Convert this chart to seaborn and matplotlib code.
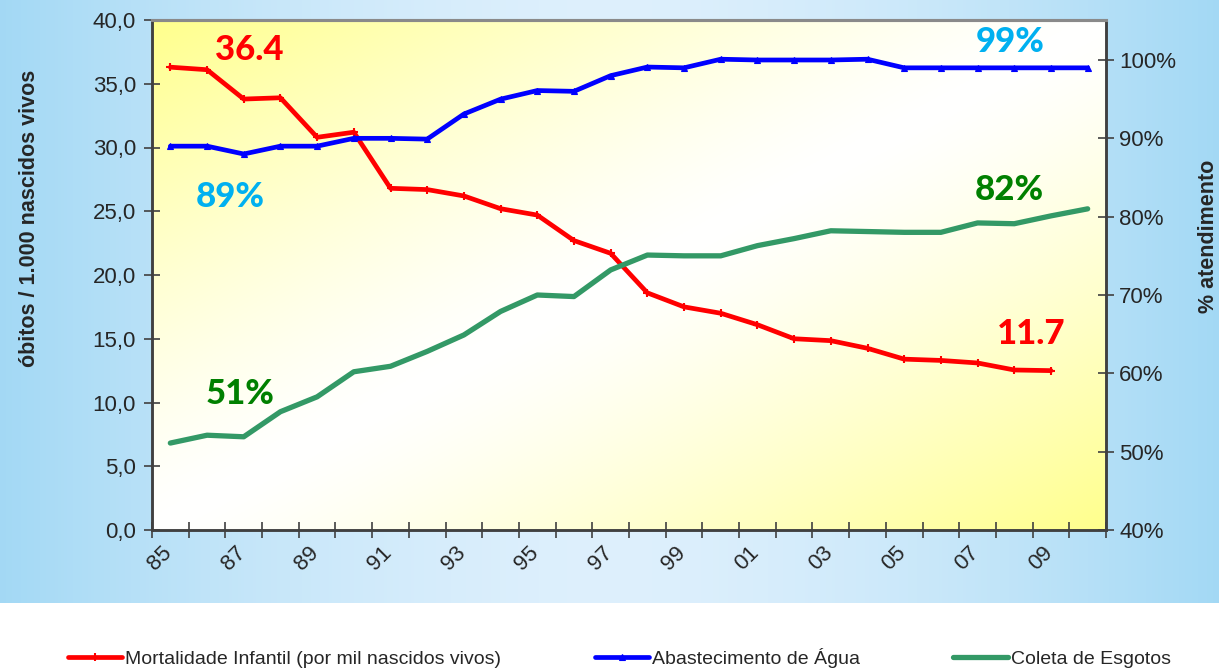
import numpy as np
import pandas as pd
import matplotlib
matplotlib.use('Agg')
import matplotlib.pyplot as plt
import matplotlib.transforms as mtransforms
import seaborn as sns

# ---- data ----
anos = ['85', '86', '87', '88', '89', '90', '91', '92', '93', '94', '95', '96', '97',
        '98', '99', '00', '01', '02', '03', '04', '05', '06', '07', '08', '09', '10']

mortalidade = [36.3, 36.1, 33.8, 33.9, 30.8, 31.2, 26.8, 26.7, 26.2, 25.2, 24.7, 22.7,
               21.7, 18.6, 17.5, 17.0, 16.1, 15.0, 14.85, 14.25, 13.4, 13.3, 13.1,
               12.55, 12.5]

agua = [89.0, 89.0, 88.0, 89.0, 89.0, 90.0, 90.0, 89.9, 93.1, 95.0, 96.1, 96.0, 98.0,
        99.1, 99.0, 100.1, 100.0, 100.0, 100.0, 100.1, 99.0, 99.0, 99.0, 99.0, 99.0,
        99.0]

esgoto = [51.1, 52.1, 51.9, 55.1, 57.0, 60.2, 60.9, 62.8, 64.9, 67.9, 70.0, 69.8, 73.2,
          75.1, 75.0, 75.0, 76.3, 77.2, 78.2, 78.1, 78.0, 78.0, 79.2, 79.1, 80.1, 81.0]

left_ticks = [0, 5, 10, 15, 20, 25, 30, 35, 40]
right_ticks = [40, 50, 60, 70, 80, 90, 100]

serie_nomes = ['Mortalidade Infantil (por mil nascidos vivos)',
               'Abastecimento de Água', 'Coleta de Esgotos']

# annotation texts (label, color, axes-fraction position)
anotacoes = [('36.4', '#FF0000', 0.102, 0.941),
             ('89%', '#00B0F0', 0.082, 0.653),
             ('99%', '#00B0F0', 0.900, 0.957),
             ('82%', '#008000', 0.899, 0.667),
             ('51%', '#008000', 0.092, 0.267),
             ('11.7', '#FF0000', 0.922, 0.384)]

df_mort = pd.DataFrame({'x': np.arange(len(mortalidade)), 'v': mortalidade})
df_agua = pd.DataFrame({'x': np.arange(len(agua)), 'v': agua})
df_esg = pd.DataFrame({'x': np.arange(len(esgoto)), 'v': esgoto})

sns.set_style('white')
plt.rcParams['font.family'] = ['Liberation Sans', 'DejaVu Sans']

fig = plt.figure(figsize=(12.19, 6.69), dpi=100, facecolor='white')

# ---- light blue background band ----
bg = fig.add_axes([0, 66 / 669, 1, 1 - 66 / 669], zorder=-10)
gx = np.linspace(0, 1, 400)
gy = np.linspace(0, 1, 100)
GX, GY = np.meshgrid(gx, gy)
t = np.abs(2 * GX - 1) ** 1.6
edge = np.array([0.64, 0.85, 0.96])
mid = np.array([0.87, 0.94, 0.99])
img = mid[None, None, :] * (1 - t[..., None]) + edge[None, None, :] * t[..., None]
bg.imshow(img, aspect='auto', extent=[0, 1, 0, 1])
bg.axis('off')

# ---- main axes ----
ax = fig.add_axes([152 / 1219, 1 - 530 / 669, (1106 - 152) / 1219, 510 / 669])
ax2 = ax.twinx()

# yellow diagonal gradient of plot area
px = np.linspace(0, 1, 300)
py = np.linspace(1, 0, 200)
PX, PY = np.meshgrid(px, py)
ty = np.abs(PX - PY) ** 1.3
white = np.array([1.0, 1.0, 1.0])
yellow = np.array([1.0, 1.0, 0.55])
pimg = white[None, None, :] * (1 - ty[..., None]) + yellow[None, None, :] * ty[..., None]
ax.imshow(pimg, aspect='auto', extent=[-0.5, len(anos) - 0.5, 0, 40], zorder=0)

sns.lineplot(data=df_mort, x='x', y='v', ax=ax, color='#FF0000', lw=3.4,
             marker='+', markersize=6, markeredgewidth=1.5, markeredgecolor='#FF0000',
             label=serie_nomes[0], legend=False, zorder=3)
sns.lineplot(data=df_agua, x='x', y='v', ax=ax2, color='#0000FF', lw=3.4,
             marker='^', markersize=5, markeredgewidth=0.8, markeredgecolor='#0000FF',
             label=serie_nomes[1], legend=False, zorder=3)
sns.lineplot(data=df_esg, x='x', y='v', ax=ax2, color='#339966', lw=3.8,
             label=serie_nomes[2], legend=False, zorder=3)

ax.set_xlim(-0.5, len(anos) - 0.5)
ax.set_ylim(0, 40)
ax2.set_ylim(40, 40 + 60 * 510 / 470)

# x ticks: boundaries as minor ticks, labels every other year
ax.set_xticks(np.arange(-0.5, len(anos), 1), minor=True)
ax.set_xticks(np.arange(0, len(anos) - 1, 2))
ax.set_xticklabels(anos[0:len(anos) - 1:2], rotation=45, ha='right')
ax.tick_params(axis='x', which='major', length=0, pad=9, labelsize=16)
ax.tick_params(axis='x', which='minor', length=11, direction='inout', width=1.2,
               color='#404040', bottom=True)
shift = mtransforms.ScaledTranslation(6 / 100, 0, fig.dpi_scale_trans)
for lab in ax.get_xticklabels():
    lab.set_transform(lab.get_transform() + shift)

ax.set_yticks(left_ticks)
ax.set_yticklabels([f'{v:.1f}'.replace('.', ',') for v in left_ticks])
ax.tick_params(axis='y', which='major', length=11, direction='inout', width=1.2,
               color='#404040', pad=6, labelsize=16, left=True)

ax2.set_yticks(right_ticks)
ax2.set_yticklabels([f'{v}%' for v in right_ticks])
ax2.tick_params(axis='y', which='major', length=11, direction='inout', width=1.2,
                color='#404040', pad=4, labelsize=16, right=True)

ax.set_xlabel('')
ax.set_ylabel('')
ax2.set_ylabel('')

for a in (ax, ax2):
    a.grid(False)
    for s in ['left', 'bottom', 'right']:
        a.spines[s].set_color('#404040')
        a.spines[s].set_linewidth(1.8)
    a.spines['top'].set_color('#8a8a8a')
    a.spines['top'].set_linewidth(2.2)
ax2.patch.set_visible(False)

# annotations
for txt, col, xa, ya in anotacoes:
    ax2.text(xa, ya, txt, transform=ax.transAxes, color=col, fontsize=25,
             fontweight='black', family=['Lato', 'DejaVu Sans'],
             ha='center', va='center', zorder=5)

# axis titles
fig.text(30 / 1219, 1 - 218 / 669, 'óbitos / 1.000 nascidos vivos', rotation=90,
         ha='center', va='center', fontsize=15.5, fontweight='bold')
fig.text(1208 / 1219, 1 - 236 / 669, '% atendimento', rotation=90,
         ha='center', va='center', fontsize=15.5, fontweight='bold')

# legend at the bottom
h1, l1 = ax.get_legend_handles_labels()
h2, l2 = ax2.get_legend_handles_labels()
fig.legend(h1 + h2, l1 + l2, loc='center left', bbox_to_anchor=(68 / 1219, 1 - 658 / 669),
           ncol=3, frameon=False, fontsize=14, handlelength=2.8, handletextpad=0.15,
           columnspacing=4.8, borderpad=0, borderaxespad=0)

fig.savefig('out.png', dpi=100, facecolor='white')
